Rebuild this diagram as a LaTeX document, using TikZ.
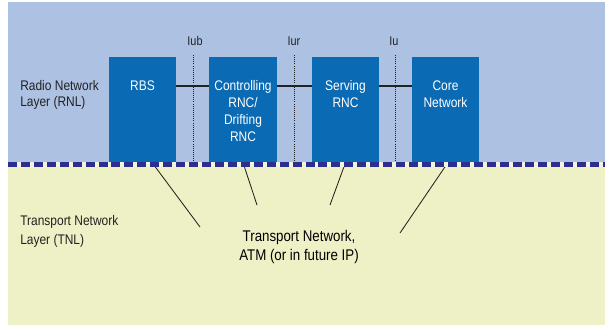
\documentclass[tikz,border=0pt]{standalone}
\usepackage{fontspec}
\setmainfont{Liberation Sans}[FakeStretch=0.86]
\usetikzlibrary{calc}

\definecolor{rnlblue}{HTML}{ADC1E3}
\definecolor{boxblue}{HTML}{0A6AB4}
\definecolor{tnlyellow}{HTML}{EEF0C5}
\definecolor{dashnavy}{HTML}{2C2F8E}
\definecolor{dashgap}{HTML}{F4F5DC}
\definecolor{txtgray}{HTML}{222222}

\tikzset{
  nodebox/.style={fill=boxblue,draw=none,minimum width=1.675cm,minimum height=2.625cm,anchor=north,inner sep=0pt},
  boxtext/.style={text=white,align=center,anchor=north,inner sep=0pt,font=\fontsize{9.9}{12}\selectfont},
  layertext/.style={text=txtgray,align=left,anchor=north west,inner sep=0pt},
  iflabel/.style={text=txtgray,inner sep=0pt,font=\fontsize{9}{10}\selectfont},
  link/.style={line width=1.3pt,txtgray},
  ifline/.style={densely dotted,line width=0.5pt,txtgray},
  tnlline/.style={line width=0.6pt,txtgray}
}

\begin{document}
\begin{tikzpicture}[x=0.025cm,y=-0.025cm]
        \useasboundingbox (0,0) rectangle (605,325);
        % layers
        \fill[rnlblue] (8,2) rectangle (605,164);
        \fill[tnlyellow] (8,164) rectangle (605,325);

        \node (rnl) at (20,80.5) [layertext,font=\fontsize{9.9}{11.3}\selectfont] {Radio Network\\Layer (RNL)};
        \node (tnl) at (20,215.5) [layertext,font=\fontsize{9.9}{13.4}\selectfont] {Transport Network\\Layer (TNL)};

        % boxes
        \node (rbs) at (142.5,57) [nodebox] {};
        \node (crnc) at (243,57) [nodebox] {};
        \node (srnc) at (345.5,57) [nodebox] {};
        \node (cn) at (445.5,57) [nodebox] {};

        \node (rbstext) at (rbs.north) [boxtext,yshift=-0.58cm] {RBS};
        \node (crnctext) at (crnc.north) [boxtext,yshift=-0.58cm] {Controlling\\RNC/\\Drifting\\RNC};
        \node (srnctext) at (srnc.north) [boxtext,yshift=-0.58cm] {Serving\\RNC};
        \node (cntext) at (cn.north) [boxtext,yshift=-0.58cm] {Core\\Network};

        \draw[link] ([yshift=-0.725cm]rbs.north east) -- ([yshift=-0.725cm]crnc.north west);
        \draw[link] ([yshift=-0.725cm]crnc.north east) -- ([yshift=-0.725cm]srnc.north west);
        \draw[link] ([yshift=-0.725cm]srnc.north east) -- ([yshift=-0.725cm]cn.north west);

        % interfaces
        \node (iub) at (195,41) [iflabel] {Iub};
        \node (iur) at (294,41) [iflabel] {Iur};
        \node (iu) at (394,41) [iflabel] {Iu};
        \coordinate (iubtop) at (193,55);
        \coordinate (iubbot) at (193,162);
        \coordinate (iurtop) at (294,55);
        \coordinate (iurbot) at (294,162);
        \coordinate (iutop) at (395,55);
        \coordinate (iubot) at (395,162);
        \draw[ifline] (iubtop) -- (iubbot);
        \draw[ifline] (iurtop) -- (iurbot);
        \draw[ifline] (iutop) -- (iubot);

        % transport network
        \node (tn) at (299,247) [text=black,align=center,font=\fontsize{11}{14.2}\selectfont] {Transport Network,\\ATM (or in future IP)};
        \coordinate (tn1) at (200,227);
        \coordinate (tn2) at (257,205);
        \coordinate (tn3) at (330,205);
        \coordinate (tn4) at (400,233);
        \draw[tnlline] ([xshift=0.24cm]rbs.south) -- (tn1);
        \draw[tnlline] (crnc.south) -- (tn2);
        \draw[tnlline] (srnc.south) -- (tn3);
        \draw[tnlline] ([xshift=0.06cm]cn.south) -- (tn4);

        % layer border
        \draw[dashgap,line width=3.5pt] (8,164.5) -- (605,164.5);
        \draw[dashnavy,line width=3.5pt,dash pattern=on 6.4pt off 2.8pt] (8,164.5) -- (605,164.5);
    \end{tikzpicture}
\end{document}
